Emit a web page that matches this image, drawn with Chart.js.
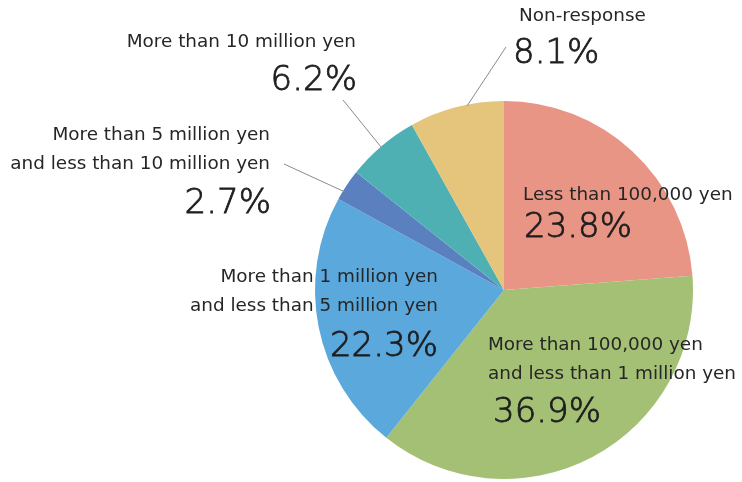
<!DOCTYPE html>
<html>
<head>
<meta charset="utf-8">
<script src="https://cdn.jsdelivr.net/npm/chart.js@4.4.0/dist/chart.umd.min.js"></script>
<style>
  html, body { margin: 0; padding: 0; background: #fff; }
  #wrap { width: 742px; height: 482px; }
</style>
</head>
<body>
<div id="wrap"><canvas id="grafico" width="742" height="482"></canvas></div>
<script>
const categorias = [
  ['Less than 100,000 yen'],
  ['More than 100,000 yen', 'and less than 1 million yen'],
  ['More than 1 million yen', 'and less than 5 million yen'],
  ['More than 5 million yen', 'and less than 10 million yen'],
  ['More than 10 million yen'],
  ['Non-response']
];
const porcentajes = [23.8, 36.9, 22.3, 2.7, 6.2, 8.1];
const colores = ['#E99586', '#A3C075', '#5AA8DC', '#5B80BF', '#4FB0B4', '#E5C47B'];

// label placement: text x / first baseline / align, percentage x / baseline / align, leader line
const etiquetas = [
  { x: 523, y: 200, align: 'left', px: 524, py: 237, palign: 'left' },
  { x: 488, y: 350, align: 'left', px: 493, py: 422, palign: 'left' },
  { x: 438, y: 282, align: 'right', px: 438, py: 356, palign: 'right' },
  { x: 270, y: 140, align: 'right', px: 271, py: 213, palign: 'right', linea: [284, 164, 345, 192] },
  { x: 356, y: 47, align: 'right', px: 357, py: 90, palign: 'right', linea: [343, 100, 381, 147] },
  { x: 519, y: 21, align: 'left', px: 513, py: 63, palign: 'left', linea: [506, 47, 467, 106] }
];

const fuenteTexto = '18.4px "DejaVu Sans"';
const fuentePct = '200 34px "DejaVu Sans"';

const textosPlugin = {
  id: 'textos',
  afterDatasetsDraw(chart) {
    const c = chart.ctx;
    c.save();
    c.fillStyle = '#262626';
    c.textBaseline = 'alphabetic';
    etiquetas.forEach((e, i) => {
      if (e.linea) {
        c.strokeStyle = '#8a8a8a';
        c.lineWidth = 1;
        c.beginPath();
        c.moveTo(e.linea[0], e.linea[1]);
        c.lineTo(e.linea[2], e.linea[3]);
        c.stroke();
      }
      c.textAlign = e.align;
      c.font = fuenteTexto;
      categorias[i].forEach((l, k) => c.fillText(l, e.x, e.y + k * 28.5));
      // percentages: thin face, thickened a little with a stroke
      c.textAlign = e.palign;
      c.font = fuentePct;
      const t = porcentajes[i].toFixed(1) + '%';
      c.fillStyle = '#1e1e1e';
      c.fillText(t, e.px, e.py);
      c.strokeStyle = '#1e1e1e';
      c.lineWidth = 0.8;
      c.strokeText(t, e.px, e.py);
      c.fillStyle = '#262626';
    });
    c.restore();
  }
};

new Chart(document.getElementById('grafico').getContext('2d'), {
  type: 'pie',
  data: {
    labels: categorias.map(l => l.join(' ')),
    datasets: [{
      data: porcentajes,
      backgroundColor: colores,
      borderWidth: 0
    }]
  },
  options: {
    responsive: false,
    animation: false,
    layout: { padding: { top: 101, bottom: 3, left: 315, right: 49 } },
    plugins: {
      legend: { display: false },
      tooltip: { enabled: false }
    }
  },
  plugins: [textosPlugin]
});
</script>
</body>
</html>
